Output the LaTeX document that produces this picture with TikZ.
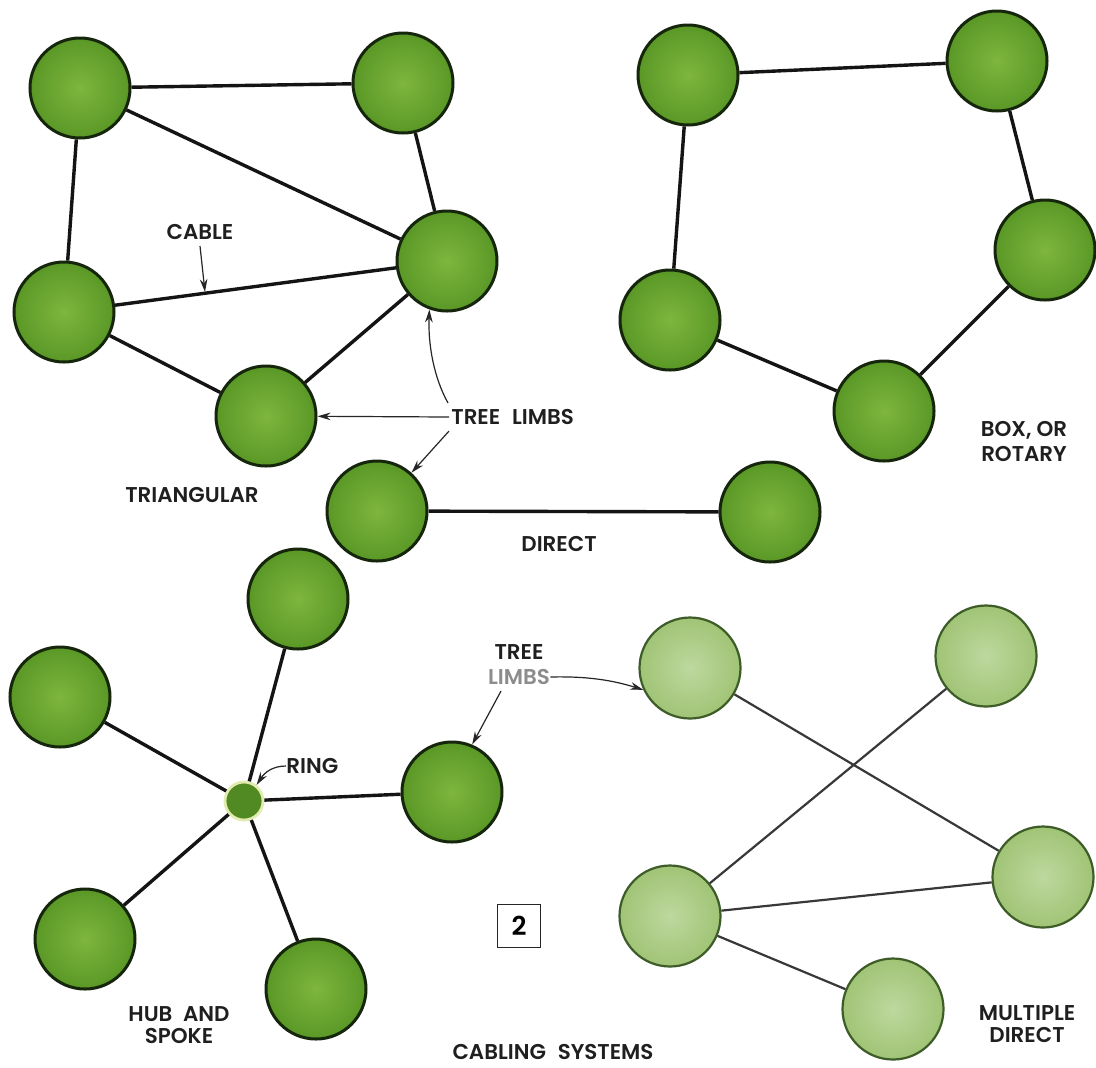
\documentclass[tikz,border=0pt]{standalone}
\usepackage{fontspec}
\IfFontExistsTF{Poppins SemiBold}{\setmainfont{Poppins SemiBold}\newcommand\lblweight{}}{\setmainfont{Poppins}\newcommand\lblweight{\bfseries}}
\usetikzlibrary{arrows.meta}
\definecolor{gout}{RGB}{90,152,38}
\definecolor{gin}{RGB}{126,182,62}
\definecolor{gline}{RGB}{22,38,12}
\definecolor{lout}{RGB}{160,196,118}
\definecolor{lin}{RGB}{190,216,158}
\definecolor{lline}{RGB}{62,92,40}
\definecolor{halo}{RGB}{226,236,176}
\begin{document}
\begin{tikzpicture}[x=0.5pt,y=-0.5pt,
  nd/.style={circle, draw=gline, line width=1.5pt, inner sep=0pt, minimum size=50pt, inner color=gin, outer color=gout},
  lnd/.style={circle, draw=lline, line width=1.1pt, inner sep=0pt, minimum size=50.5pt, inner color=lin, outer color=lout},
  ringnd/.style={circle, draw=halo, line width=1.4pt, inner sep=0pt, minimum size=19pt, fill=gout!90!black},
  cab/.style={draw=black!92, line width=1.7pt},
  cabthin/.style={draw=black!78, line width=1.1pt},
  lbl/.style={font=\fontsize{10.7}{11}\selectfont\lblweight, inner sep=0pt, text=black!88},
  arr/.style={draw=black!85, line width=0.6pt, -{Stealth[length=6.5pt,width=3.8pt]}}]
\fill[white] (0,0) rectangle (1096,1067);
\useasboundingbox (0,0) rectangle (1096,1067);

% triangular
\node[nd] (A) at (80,88) {};
\node[nd] (B) at (403,83) {};
\node[nd] (C) at (447,261) {};
\node[nd] (D) at (64,312) {};
\node[nd] (E) at (266,416) {};
\draw[cab] (A) -- (B);
\draw[cab] (A) -- (C);
\draw[cab] (A) -- (D);
\draw[cab] (B) -- (C);
\draw[cab] (D) -- (C);
\draw[cab] (D) -- (E);
\draw[cab] (E) -- (C);

% box, or rotary
\node[nd] (F) at (688,75) {};
\node[nd] (G) at (997,61) {};
\node[nd] (H) at (1045,250) {};
\node[nd] (I) at (670,320) {};
\node[nd] (J) at (884,411) {};
\draw[cab] (F) -- (G);
\draw[cab] (G) -- (H);
\draw[cab] (H) -- (J);
\draw[cab] (J) -- (I);
\draw[cab] (I) -- (F);

% direct
\node[nd] (K) at (377,511) {};
\node[nd] (L) at (770,512) {};
\draw[cab] (K) -- (L);

% hub and spoke
\node[nd] (T) at (298,599) {};
\node[nd] (Lf) at (60,697) {};
\node[ringnd] (R) at (244,801) {};
\node[nd] (Rt) at (452,792) {};
\node[nd] (BL) at (85,939) {};
\node[nd] (Bt) at (316,989) {};
\draw[cab] (R) -- (T);
\draw[cab] (R) -- (Lf);
\draw[cab] (R) -- (Rt);
\draw[cab] (R) -- (BL);
\draw[cab] (R) -- (Bt);

% multiple direct
\node[lnd] (M1) at (690,668) {};
\node[lnd] (M2) at (986,656) {};
\node[lnd] (M3) at (1043,877) {};
\node[lnd] (M4) at (670,916) {};
\node[lnd] (M5) at (893,1009) {};
\draw[cabthin] (M1) -- (M3);
\draw[cabthin] (M2) -- (M4);
\draw[cabthin] (M4) -- (M3);
\draw[cabthin] (M4) -- (M5);

% labels
\node[lbl] (cable) at (200,232) {CABLE};
\coordinate (cabpt) at (205,292);
\draw[arr] (cable.south) ++(0,6) -- (cabpt);
\node[lbl] (triang) at (192,495) {TRIANGULAR};
\node[lbl, anchor=west] (tl) at (451,417) {TREE\hspace{0.55em}LIMBS};
\draw[arr] ([shift={(-3,-6)}]tl.north west) .. controls (434,378) and (428,345) .. (C.-110);
\draw[arr] ([xshift=-1pt]tl.west) -- (E);
\draw[arr] ([shift={(-2,6)}]tl.south west) -- (K);
\node[lbl, align=center, font=\fontsize{10.7}{12.5}\selectfont\lblweight] (boxor) at (1024,441) {BOX, OR\\ROTARY};
\node[lbl] (direct) at (559,544) {DIRECT};
\node[lbl, anchor=west] (ringlbl) at (286,766) {RING};
\draw[arr] (ringlbl.west) .. controls (273,766) and (265,772) .. (R.52);
\node[lbl] (tree2) at (519,652) {TREE};
\node[lbl, text=black!45] (limbs2) at (519,677) {LIMBS};
\draw[arr] (limbs2.east) .. controls (590,676) and (615,681) .. (M1.205);
\draw[arr] ([shift={(-18,6)}]limbs2.south) -- (Rt.67);
\node[lbl, align=center] (hub) at (179,1025) {HUB\hspace{0.5em}AND\\SPOKE};
\node[lbl, align=center] (multi) at (1027,1024) {MULTIPLE\\DIRECT};
\node[lbl] (title) at (553,1052) {CABLING\hspace{0.55em}SYSTEMS};
\node[draw=black!85, line width=0.9pt, minimum size=21.5pt, inner sep=0pt, font=\fontsize{13}{13}\selectfont\lblweight] (fig) at (519,926) {2};
\end{tikzpicture}
\end{document}
